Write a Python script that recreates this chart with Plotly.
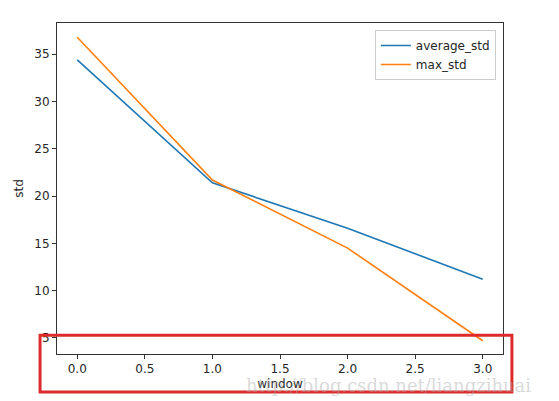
import plotly.graph_objects as go

# datos
window = [0, 1, 2, 3]
average_std = [34.4, 21.4, 16.6, 11.2]
max_std = [36.8, 21.7, 14.5, 4.7]

x_ticks = [0.0, 0.5, 1.0, 1.5, 2.0, 2.5, 3.0]
y_ticks = [5, 10, 15, 20, 25, 30, 35]

fig = go.Figure()
fig.add_trace(go.Scatter(x=window, y=average_std, mode="lines", name="average_std",
                         line=dict(color="#1f77b4", width=1.6)))
fig.add_trace(go.Scatter(x=window, y=max_std, mode="lines", name="max_std",
                         line=dict(color="#ff7f0e", width=1.6)))

eje = dict(showgrid=False, zeroline=False, showline=True, linecolor="#333333", linewidth=1,
           mirror=True, ticks="outside", ticklen=4, tickcolor="#333333",
           tickfont=dict(size=12, color="#262626"))

fig.update_xaxes(range=[-0.15, 3.15], tickvals=x_ticks,
                 ticktext=[f"{v:.1f}" for v in x_ticks],
                 title=dict(text="window", font=dict(size=12, color="#262626"), standoff=4), **eje)
fig.update_yaxes(range=[3.3, 38.3], tickvals=y_ticks,
                 title=dict(text="std", font=dict(size=12, color="#262626"), standoff=8), **eje)

fig.update_layout(
    width=559, height=401,
    margin=dict(l=57, r=56, t=23, b=47),
    plot_bgcolor="white", paper_bgcolor="white",
    font=dict(family="DejaVu Sans", size=12, color="#262626"),
    legend=dict(x=0.984, y=0.979, xanchor="right", yanchor="top",
                bgcolor="rgba(255,255,255,0.8)", bordercolor="#cccccc", borderwidth=1,
                font=dict(size=12)),
    shapes=[dict(type="rect", xref="paper", yref="paper",
                 x0=-0.038, x1=1.020, y0=-0.115, y1=0.057,
                 line=dict(color="#dd2b2b", width=3), layer="above")],
    annotations=[dict(text="http://blog.csdn.net/liangzihuai", xref="paper", yref="paper",
                      x=0.42, y=-0.095, xanchor="left", yanchor="middle", showarrow=False,
                      font=dict(family="DejaVu Serif", size=18, color="rgba(170,170,170,0.45)"))],
)

# quitar el margen del body para que la figura quede en la esquina
fig.write_html("out.html", config={"displayModeBar": False},
               post_script="document.body.style.margin='0';")
